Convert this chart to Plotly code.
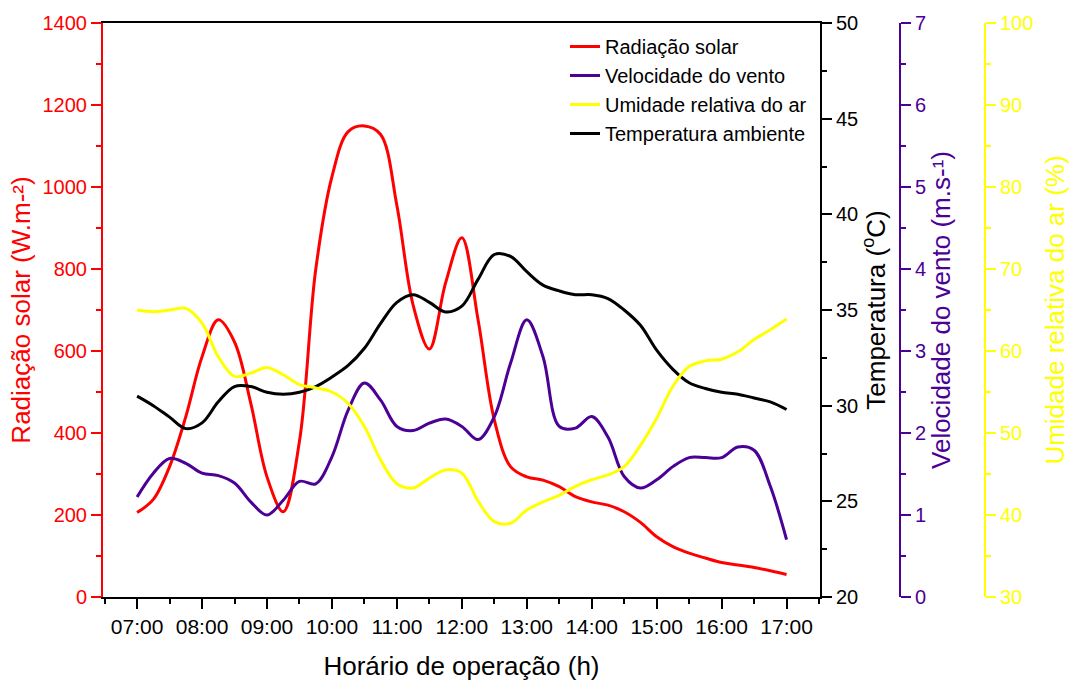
import plotly.graph_objects as go

# Horário das leituras (a cada 15 min)
horario = [
    "07:00", "07:15", "07:30", "07:45", "08:00", "08:15", "08:30", "08:45",
    "09:00", "09:15", "09:30", "09:45", "10:00", "10:15", "10:30", "10:45",
    "11:00", "11:15", "11:30", "11:45", "12:00", "12:15", "12:30", "12:45",
    "13:00", "13:15", "13:30", "13:45", "14:00", "14:15", "14:30", "14:45",
    "15:00", "15:15", "15:30", "15:45", "16:00", "16:15", "16:30", "16:45",
    "17:00",
]

# Radiação solar (W.m-²)
radiacao = [
    206, 238, 318, 440, 586, 676, 622, 473,
    293, 208, 380, 798, 1025, 1135, 1149, 1128,
    955, 712, 605, 766, 876, 676, 432, 318,
    293, 285, 269, 245, 232, 224, 208, 182,
    147, 123, 107, 95, 84, 78, 72, 64,
    55,
]

# Velocidade do vento (m.s-¹)
vento = [
    1.22, 1.51, 1.69, 1.63, 1.51, 1.48, 1.39, 1.16,
    1.00, 1.18, 1.41, 1.38, 1.71, 2.28, 2.61, 2.40,
    2.08, 2.03, 2.12, 2.17, 2.08, 1.92, 2.20, 2.85,
    3.38, 2.93, 2.08, 2.06, 2.20, 1.95, 1.47, 1.33,
    1.43, 1.59, 1.70, 1.70, 1.70, 1.83, 1.79, 1.35,
    0.70,
]

# Umidade relativa do ar (%)
umidade = [
    65.0, 64.8, 65.0, 65.2, 63.4, 59.3, 56.9, 57.3,
    58.0, 57.1, 55.9, 55.5, 55.0, 53.6, 50.8, 46.7,
    43.8, 43.3, 44.5, 45.5, 45.1, 41.7, 39.2, 39.0,
    40.6, 41.6, 42.4, 43.5, 44.3, 44.9, 45.9, 48.5,
    51.8, 55.7, 58.1, 58.8, 59.0, 59.9, 61.4, 62.6,
    63.9,
]

# Temperatura ambiente (ºC)
temperatura = [
    30.5, 30.0, 29.4, 28.8, 29.1, 30.2, 31.0, 31.0,
    30.7, 30.6, 30.7, 31.0, 31.5, 32.1, 33.0, 34.3,
    35.4, 35.8, 35.4, 34.9, 35.2, 36.6, 37.9, 37.8,
    37.0, 36.3, 36.0, 35.8, 35.8, 35.6, 35.0, 34.2,
    32.9, 31.9, 31.2, 30.9, 30.7, 30.6, 30.4, 30.2,
    29.8,
]

# Rótulos do eixo x
rotulos_x = ["07:00", "08:00", "09:00", "10:00", "11:00", "12:00",
             "13:00", "14:00", "15:00", "16:00", "17:00"]


def horas(txt):
    h, m = txt.split(":")
    return int(h) + int(m) / 60.0


t = [horas(s) for s in horario]
t_ticks = [horas(s) for s in rotulos_x]
t_minor = [v + 0.5 for v in [t_ticks[0] - 1] + t_ticks]

VERMELHO = "#FF0000"
ROXO = "#4B0096"
AMARELO = "#FFFF00"
PRETO = "#000000"
FONTE = "Liberation Sans, Arial, sans-serif"

fig = go.Figure()
linha = dict(width=3, shape="spline", smoothing=1.0)

fig.add_trace(go.Scatter(x=t, y=radiacao, name="Radiação solar", mode="lines",
                         line=dict(color=VERMELHO, **linha), yaxis="y"))
fig.add_trace(go.Scatter(x=t, y=vento, name="Velocidade do vento", mode="lines",
                         line=dict(color=ROXO, **linha), yaxis="y3"))
fig.add_trace(go.Scatter(x=t, y=umidade, name="Umidade relativa do ar", mode="lines",
                         line=dict(color=AMARELO, **linha), yaxis="y4"))
fig.add_trace(go.Scatter(x=t, y=temperatura, name="Temperatura ambiente", mode="lines",
                         line=dict(color=PRETO, **linha), yaxis="y2"))

W, H = 1071, 686
ML, MR, MT, MB = 103, 40, 23, 89
plot_w = W - ML - MR
x_end = (820 - ML) / plot_w


def eixo_y(cor, faixa, passo, menor, titulo, afastamento=4, **extra):
    d = dict(
        range=faixa, dtick=passo, tick0=faixa[0],
        showgrid=False, zeroline=False,
        showline=True, linecolor=cor, linewidth=2,
        ticks="outside", ticklen=10, tickwidth=1.5, tickcolor=cor,
        tickfont=dict(family=FONTE, size=20, color=cor),
        minor=dict(dtick=menor, tick0=faixa[0], ticks="outside", ticklen=5,
                   tickwidth=1.5, tickcolor=cor, showgrid=False),
        title=dict(text=titulo, font=dict(family=FONTE, size=26, color=cor),
                   standoff=afastamento),
    )
    d.update(extra)
    return d


fig.update_layout(
    width=W, height=H,
    margin=dict(l=ML, r=MR, t=MT, b=MB, autoexpand=False),
    paper_bgcolor="white", plot_bgcolor="white",
    font=dict(family=FONTE, color=PRETO),
    xaxis=dict(
        domain=[0, x_end], range=[6.475, 17.515],
        tickvals=t_ticks, ticktext=rotulos_x,
        showgrid=False, zeroline=False,
        showline=True, linecolor=PRETO, linewidth=2, mirror=True,
        ticks="outside", ticklen=10, tickwidth=1.5, tickcolor=PRETO,
        tickfont=dict(family=FONTE, size=21, color=PRETO),
        minor=dict(tickvals=t_minor, ticks="outside", ticklen=5,
                   tickwidth=1.5, tickcolor=PRETO, showgrid=False),
        title=dict(text="Horário de operação (h)",
                   font=dict(family=FONTE, size=26, color=PRETO), standoff=20),
    ),
    yaxis=eixo_y(VERMELHO, [0, 1400], 200, 100, "Radiação solar (W.m-²)"),
    yaxis2=eixo_y(PRETO, [20, 50], 5, 2.5, "Temperatura (<sup>o</sup>C)",
                  afastamento=7, overlaying="y", side="right", anchor="x"),
    yaxis3=eixo_y(ROXO, [0, 7], 1, 0.5, "Velocidade do vento (m.s-¹)",
                  afastamento=6, overlaying="y", side="right", anchor="free",
                  position=(900 - ML) / plot_w),
    yaxis4=eixo_y(AMARELO, [30, 100], 10, 5, "Umidade relativa do ar (%)",
                  afastamento=12, overlaying="y", side="right", anchor="free",
                  position=(985 - ML) / plot_w),
    legend=dict(
        x=(565 - ML) / plot_w, y=0.993, xanchor="left", yanchor="top",
        bgcolor="rgba(0,0,0,0)", borderwidth=0,
        font=dict(family=FONTE, size=20, color=PRETO),
        tracegroupgap=0,
    ),
    showlegend=True,
)

fig.write_html("out.html")
